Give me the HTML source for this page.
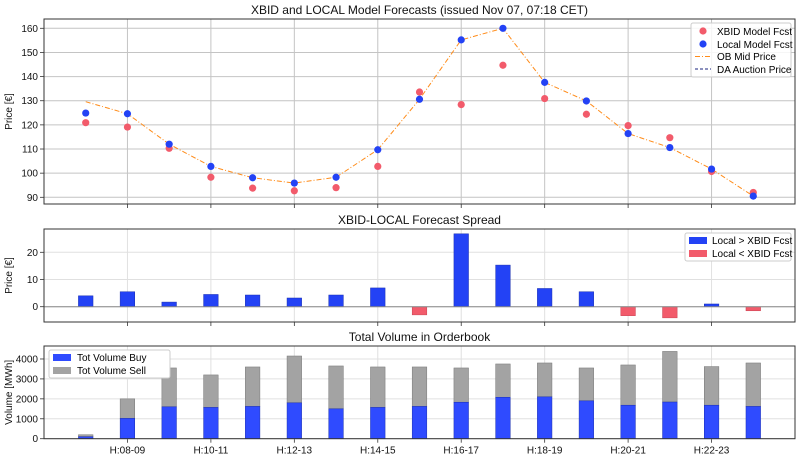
<!DOCTYPE html>
<html><head><meta charset="utf-8">
<style>
body{margin:0;background:#fff;}
svg{display:block;font-family:"Liberation Sans","DejaVu Sans",sans-serif;}
</style></head>
<body>
<svg id="chart" width="800" height="459" viewBox="0 0 800 459" xmlns="http://www.w3.org/2000/svg"></svg>
<script>
const categories=["H:07-08","H:08-09","H:09-10","H:10-11","H:11-12","H:12-13","H:13-14","H:14-15","H:15-16","H:16-17","H:17-18","H:18-19","H:19-20","H:20-21","H:21-22","H:22-23","H:23-24"];
const xbidFcst=[120.9,119.1,110.3,98.3,93.8,92.7,94.0,102.8,133.6,128.4,144.7,130.9,124.4,119.7,114.7,100.7,92.0];
const localFcst=[124.9,124.6,112.0,102.8,98.1,95.9,98.3,109.7,130.6,155.2,160.0,137.6,129.9,116.4,110.6,101.7,90.5];
const obMid=[129.6,124.6,112.0,102.8,98.1,95.9,98.3,109.7,130.6,155.2,160.0,137.6,129.9,116.4,110.6,101.7,90.5];
const spread=[4.0,5.5,1.7,4.5,4.3,3.2,4.3,6.9,-3.0,26.8,15.3,6.7,5.5,-3.3,-4.1,1.0,-1.5];
const volBuy=[100,1020,1600,1570,1620,1800,1500,1570,1620,1830,2080,2100,1900,1680,1840,1680,1620];
const volTotal=[200,2000,3550,3200,3600,4150,3650,3600,3600,3550,3750,3800,3550,3700,4380,3620,3800];
const topTicks=[90,100,110,120,130,140,150,160];
const midTicks=[0,10,20];
const botTicks=[0,1000,2000,3000,4000];

const NS="http://www.w3.org/2000/svg";
const svg=document.getElementById('chart');
function el(tag,attrs,parent,text){const e=document.createElementNS(NS,tag);for(const k in attrs)e.setAttribute(k,attrs[k]);if(text!==undefined)e.textContent=text;(parent||svg).appendChild(e);return e;}
const L=44,R=795;
const x=i=>L+(i+1)*(R-L)/18;
const yTop=v=>197.3-(v-90)*(169/70);
const yMid=v=>306.7-v*2.72;
const yBot=v=>438.7-v*0.01993;
const bw=14.6;

function axesFrame(name,top,bottom,title,ytitle,ticks,yf,gridColor,showX){
  const g=el('g',{},svg);
  
  
  for(let i=1;i<17;i+=2){
    el('line',{x1:x(i),x2:x(i),y1:top,y2:bottom,stroke:gridColor,'stroke-width':1},g);
    el('line',{x1:x(i),x2:x(i),y1:bottom,y2:bottom+4,stroke:'#333','stroke-width':0.8},g);
    if(showX){const t=el('text',{x:x(i),y:bottom+15,'font-size':10,'text-anchor':'middle',fill:'#111'},g,categories[i]);}
  }
  ticks.forEach(v=>{const yy=yf(v);
    el('line',{x1:L,x2:R,y1:yy,y2:yy,stroke:gridColor,'stroke-width':1},g);
    el('line',{x1:L-4,x2:L,y1:yy,y2:yy,stroke:'#333','stroke-width':0.8},g);
    const t=el('text',{x:L-6,y:yy+3.5,'font-size':10,'text-anchor':'end',fill:'#111'},g,String(v));
    
  });
  const tt=el('text',{x:(L+R)/2,y:top-5,'font-size':12,'text-anchor':'middle',fill:'#111'},g,title);
  
  const cy=(top+bottom)/2;
  const yt=el('text',{x:12,y:cy,'font-size':10,'text-anchor':'middle',fill:'#111',transform:`rotate(-90 12 ${cy})`},g,ytitle);
  
  return g;
}
function frame(top,bottom){el('rect',{x:L,y:top,width:R-L,height:bottom-top,fill:'none',stroke:'#333','stroke-width':1});}

// Top
axesFrame('price-forecast-panel',19,204,'XBID and LOCAL Model Forecasts (issued Nov 07, 07:18 CET)','Price [€]',topTicks,yTop,'#c4c4c4',false);
const ob=el('polyline',{points:obMid.map((v,i)=>x(i)+','+yTop(v)).join(' '),fill:'none',stroke:'#ff8c1a','stroke-width':1,'stroke-dasharray':'5 2 1 2'});

xbidFcst.forEach((v,i)=>{const c=el('circle',{cx:x(i),cy:yTop(v),r:3.6,fill:'#f25b6b'});});
localFcst.forEach((v,i)=>{const c=el('circle',{cx:x(i),cy:yTop(v),r:3.6,fill:'#2342f5'});});
frame(19,204);
const lg=el('g',{});

el('rect',{x:691,y:23,width:100,height:54,fill:'#fff','fill-opacity':0.85,stroke:'#ccc',rx:2},lg);
el('circle',{cx:703,cy:31,r:3.6,fill:'#f25b6b'},lg);el('text',{x:717,y:35,'font-size':10},lg,'XBID Model Fcst');
el('circle',{cx:703,cy:44,r:3.6,fill:'#2342f5'},lg);el('text',{x:717,y:48,'font-size':10},lg,'Local Model Fcst');
el('line',{x1:695,x2:711,y1:56.5,y2:56.5,stroke:'#ff8c1a','stroke-dasharray':'5 2 1 2'},lg);el('text',{x:717,y:60,'font-size':10},lg,'OB Mid Price');
el('line',{x1:695,x2:711,y1:69,y2:69,stroke:'#1a237e','stroke-dasharray':'3 2'},lg);el('text',{x:717,y:73,'font-size':10},lg,'DA Auction Price');

// Middle
axesFrame('spread-panel',229,322,'XBID-LOCAL Forecast Spread','Price [€]',midTicks,yMid,'#e0e0e0',false);
spread.forEach((v,i)=>{const y0=yMid(Math.max(v,0)),h=Math.abs(yMid(v)-yMid(0));
  const r=el('rect',{x:x(i)-bw/2,y:y0,width:bw,height:h,fill:v>=0?'#2342f5':'#f25b6b',stroke:v>=0?'#1a2fb0':'#c84050','stroke-width':0.5});
  });
el('line',{x1:L,x2:R,y1:yMid(0),y2:yMid(0),stroke:'#888','stroke-width':1});
frame(229,322);
const lm=el('g',{});

el('rect',{x:685,y:233,width:106,height:28,fill:'#fff',stroke:'#ccc',rx:2},lm);
el('rect',{x:689,y:237,width:18,height:7,fill:'#2342f5'},lm);el('text',{x:712,y:244,'font-size':10},lm,'Local > XBID Fcst');
el('rect',{x:689,y:250,width:18,height:7,fill:'#f25b6b'},lm);el('text',{x:712,y:257,'font-size':10},lm,'Local < XBID Fcst');

// Bottom
axesFrame('volume-panel',346,438.7,'Total Volume in Orderbook','Volume [MWh]',botTicks,yBot,'#e0e0e0',true);
volTotal.forEach((v,i)=>{const r=el('rect',{x:x(i)-bw/2,y:yBot(v),width:bw,height:yBot(volBuy[i])-yBot(v),fill:'#a3a3a3',stroke:'#777','stroke-width':0.5});
  });
volBuy.forEach((v,i)=>{const r=el('rect',{x:x(i)-bw/2,y:yBot(v),width:bw,height:yBot(0)-yBot(v),fill:'#2f4bff',stroke:'#1a2fb0','stroke-width':0.5});
  });
frame(346,438.7);
const lb=el('g',{});

el('rect',{x:49,y:350,width:121,height:28,fill:'#fff',stroke:'#ccc',rx:2},lb);
el('rect',{x:53,y:354,width:18,height:7,fill:'#2f4bff'},lb);el('text',{x:77,y:361,'font-size':10},lb,'Tot Volume Buy');
el('rect',{x:53,y:367,width:18,height:7,fill:'#a3a3a3'},lb);el('text',{x:77,y:374,'font-size':10},lb,'Tot Volume Sell');
</script>
</body></html>
